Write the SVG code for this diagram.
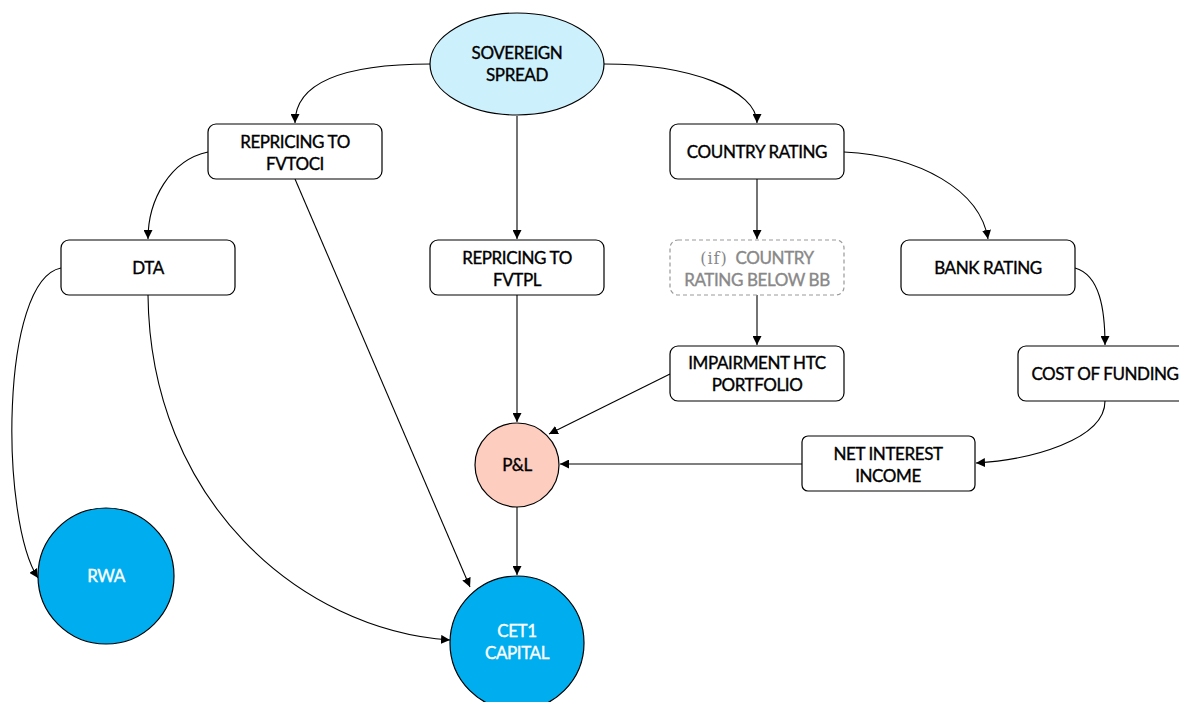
<svg xmlns="http://www.w3.org/2000/svg" width="1179" height="702" viewBox="0 0 1179 702">
<defs>
<marker id="arr" viewBox="0 0 10 10" refX="10" refY="5" markerWidth="9" markerHeight="9" markerUnits="userSpaceOnUse" orient="auto">
<path d="M0,0 L10,5 L0,10 Z" fill="#000"/>
</marker>
<style>
.box{fill:#fff;stroke:#000;stroke-width:1.2}
.dash{fill:#fff;stroke:#999;stroke-width:1.2;stroke-dasharray:4 3}
.t{font-family:Lato,"Open Sans","Liberation Sans",sans-serif;font-size:17px;fill:#000;stroke:#000;stroke-width:0.35;text-anchor:middle;letter-spacing:-0.4px}
.w{fill:#fff;stroke:#fff}
.g{fill:#888;stroke:#888}
.c{fill:none;stroke:#000;stroke-width:1.1;marker-end:url(#arr)}
</style>
</defs>
<rect width="1179" height="702" fill="#fff"/>
<g id="connectors">
<path class="c" d="M431,64 C350,64 295,80 295,123"/>
<path class="c" d="M604,64 C690,64 757,90 757,123"/>
<path class="c" d="M517,116 L517,239"/>
<path class="c" d="M208,152 C170,160 148,200 148,239"/>
<path class="c" d="M295,179 L470,587"/>
<path class="c" d="M61,268 C0,280 0,520 38,578"/>
<path class="c" d="M148,295 C150,500 300,630 450,640"/>
<path class="c" d="M517,295 L517,422"/>
<path class="c" d="M757,179 L757,239"/>
<path class="c" d="M844,152 C920,156 980,190 988,239"/>
<path class="c" d="M757,295 L757,345"/>
<path class="c" d="M670,374 L549,434"/>
<path class="c" d="M1075,268 C1100,275 1105,310 1105,345"/>
<path class="c" d="M1105,401 C1105,440 1030,460 976,463"/>
<path class="c" d="M802,464 L560,464"/>
<path class="c" d="M517,507 L517,575"/>
</g>
<g id="sovereign">
<ellipse cx="517" cy="64" rx="87" ry="51" fill="#cdf0fd" stroke="#000" stroke-width="1.2"/>
<text class="t" x="517" y="59">SOVEREIGN</text>
<text class="t" x="517" y="81">SPREAD</text>
</g>
<g id="fvtoci">
<rect class="box" x="208" y="124" width="174" height="55" rx="8"/>
<text class="t" x="295" y="148">REPRICING TO</text>
<text class="t" x="295" y="170">FVTOCI</text>
</g>
<g id="country">
<rect class="box" x="670" y="124" width="174" height="55" rx="8"/>
<text class="t" x="757" y="158">COUNTRY RATING</text>
</g>
<g id="dta">
<rect class="box" x="61" y="240" width="174" height="55" rx="8"/>
<text class="t" x="148" y="274">DTA</text>
</g>
<g id="fvtpl">
<rect class="box" x="430" y="240" width="174" height="55" rx="8"/>
<text class="t" x="517" y="264">REPRICING TO</text>
<text class="t" x="517" y="286">FVTPL</text>
</g>
<g id="belowbb">
<rect class="dash" x="670" y="240" width="174" height="55" rx="8"/>
<text class="t g" x="757" y="264" xml:space="preserve"><tspan font-family="'DejaVu Serif','Liberation Serif',serif" font-size="16" stroke-width="0" letter-spacing="1">(if)</tspan>  COUNTRY</text>
<text class="t g" x="757" y="286">RATING BELOW BB</text>
</g>
<g id="bank">
<rect class="box" x="901" y="240" width="174" height="55" rx="8"/>
<text class="t" x="988" y="274">BANK RATING</text>
</g>
<g id="impairment">
<rect class="box" x="670" y="346" width="174" height="55" rx="8"/>
<text class="t" x="757" y="369">IMPAIRMENT HTC</text>
<text class="t" x="757" y="391">PORTFOLIO</text>
</g>
<g id="funding">
<rect class="box" x="1018" y="346" width="174" height="55" rx="8"/>
<text class="t" x="1105" y="380">COST OF FUNDING</text>
</g>
<g id="nii">
<rect class="box" x="802" y="436" width="173" height="55" rx="6"/>
<text class="t" x="888" y="460">NET INTEREST</text>
<text class="t" x="888" y="482">INCOME</text>
</g>
<g id="pl">
<circle cx="517" cy="465" r="42" fill="#fdcdc0" stroke="#000" stroke-width="1.2"/>
<text class="t" x="517" y="471">P&amp;L</text>
</g>
<g id="rwa">
<circle cx="106" cy="576" r="68" fill="#00aeef" stroke="#000" stroke-width="1.2"/>
<text class="t w" x="106" y="582">RWA</text>
</g>
<g id="cet1">
<circle cx="517" cy="643" r="67" fill="#00aeef" stroke="#000" stroke-width="1.2"/>
<text class="t w" x="517" y="637">CET1</text>
<text class="t w" x="517" y="659">CAPITAL</text>
</g>
</svg>
